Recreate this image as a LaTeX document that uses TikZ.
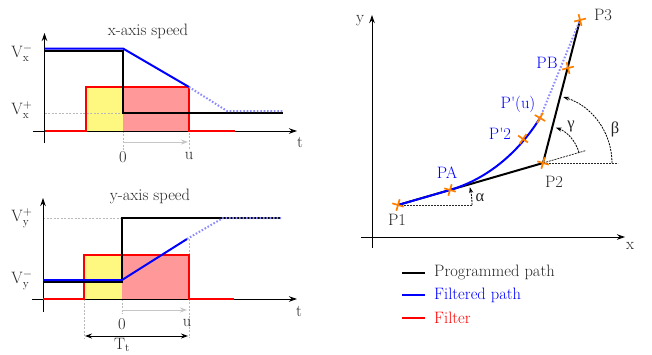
\documentclass[tikz,border=0pt]{standalone}
\usepackage{fontspec}
\newfontfamily\grk{Liberation Serif}
\usetikzlibrary{arrows.meta}
\begin{document}
\begin{tikzpicture}[x=1pt,y=-1pt,
  font=\fontsize{16.5}{19}\selectfont,
  axis/.style={line width=0.9pt,-{Stealth[length=8pt,width=5.5pt]}},
  prog/.style={line width=2pt,black},
  filt/.style={line width=2pt,blue},
  filtdot/.style={line width=2pt,blue!45,dash pattern=on 1.6pt off 1.8pt},
  filter/.style={line width=2pt,red},
  guide/.style={gray!55,line width=0.6pt,dash pattern=on 2pt off 1.5pt},
  garrow/.style={gray!45,line width=1pt,-{Stealth[length=7pt,width=5pt]}},
  angarc/.style={black,line width=0.8pt,dash pattern=on 2pt off 1pt,-{Stealth[length=6pt,width=4pt]}},
  angline/.style={black!85,line width=0.8pt,dash pattern=on 2pt off 1pt},
  lbl/.style={text=black!85,inner sep=1pt},
  blbl/.style={text=blue,inner sep=1pt},
  ocross/.pic={\draw[orange,line width=1.7pt] (-6,0)--(6,0) (0,-6)--(0,6);}
]
\useasboundingbox (0,0) rectangle (652,354);

% ---------------- top chart: x-axis speed ----------------
\fill[yellow!50] (86,87) rectangle (123,131);
\fill[red!40] (123,87) rectangle (189,131);
\draw[guide] (44.5,113) -- (123,113);
\draw[guide] (123,113) -- (123,150);
\draw[guide] (189,87) -- (189,150);
\draw[garrow] (123,142) -- (188,142);
\draw[axis] (33,131) -- (297,131);
\draw[axis] (44.5,143) -- (44.5,33);
\draw[filter] (44.5,131) -- (86,131) -- (86,87) -- (189,87) -- (189,131) -- (235,131);
\draw[prog] (44.5,50.5) -- (123,50.5) -- (123,113) -- (283,113);
\draw[filt] (44.5,48.5) -- (123,48.5) -- (189,87);
\draw[filtdot] (189,87) -- (227,111) -- (283,111);
\node[lbl] (tx) at (148,31) {x-axis speed};
\node[lbl] (vxm) at (22,53) {$\mathrm{V}_{\mathrm{x}}^{-}$};
\node[lbl] (vxp) at (22,110) {$\mathrm{V}_{\mathrm{x}}^{+}$};
\node[lbl] (zx) at (123,157) {0};
\node[lbl] (ux) at (189,156) {u};
\node[lbl] (ttx) at (300,142) {t};

% ---------------- bottom chart: y-axis speed ----------------
\fill[yellow!50] (84,255) rectangle (122,299);
\fill[red!40] (122,255) rectangle (189,299);
\draw[guide] (43,218) -- (122,218);
\draw[guide] (84,299) -- (84,338);
\draw[guide] (122,299) -- (122,314);
\draw[guide] (189,239) -- (189,338);
\draw[garrow] (122,310) -- (187,310);
\draw[axis] (32,299) -- (297,299);
\draw[axis] (43,312) -- (43,198);
\draw[filter] (43,299) -- (84,299) -- (84,255) -- (189,255) -- (189,299) -- (234,299);
\draw[prog] (43,282) -- (122,282) -- (122,218) -- (281,218);
\draw[filt] (43,280) -- (122,280) -- (187,239);
\draw[filtdot] (187,239) -- (223,218) -- (281,218);
\draw[line width=1pt,{Stealth[length=7pt,width=5pt]}-{Stealth[length=7pt,width=5pt]}] (85,336) -- (188,336);
\node[lbl] (ty) at (150,196) {y-axis speed};
\node[lbl] (vyp) at (22,218) {$\mathrm{V}_{\mathrm{y}}^{+}$};
\node[lbl] (vym) at (22,280) {$\mathrm{V}_{\mathrm{y}}^{-}$};
\node[lbl] (zy) at (122,324) {0};
\node[lbl] (uy) at (187,323) {u};
\node[lbl] (tty) at (299,311) {t};
\node[lbl] (tt) at (122,345) {$\mathrm{T}_{\mathrm{t}}$};

% ---------------- right chart: path ----------------
\coordinate (P1) at (398,205);
\coordinate (PA) at (450,190);
\coordinate (P2) at (543,163);
\coordinate (Pp2) at (523,139);
\coordinate (Pu) at (540,118);
\coordinate (PB) at (568,68);
\coordinate (P3) at (580,20);

\draw[axis] (361,237) -- (625,237);
\draw[axis] (372,248) -- (372,15);
\node[lbl] (ylab) at (360,21) {y};
\node[lbl] (xlab) at (630,246) {x};

% angle helpers
\draw[angline] (P1) -- (472,205);
\draw[angline] (P2) -- (618,163);
\draw[angline] (P2) -- (586,150.5);
\draw[angarc] (472,205) arc[start angle=0,end angle=-14,radius=74];
\draw[angarc] (612,163) arc[start angle=0,end angle=-73,radius=69];
\draw[angarc] (579,152.5) arc[start angle=-16,end angle=-70,radius=37.5];
\node[lbl] (alpha) at (480,198) {\grk α};
\node[lbl] (beta) at (615,129) {\grk β};
\node[lbl] (gamma) at (571,126) {\grk γ};

% paths
\draw[prog] (P1) -- (P2) -- (P3);
\draw[filt] (P1) -- (PA) .. controls (490,178) and (520,150) .. (Pu);
\draw[filtdot] (Pu) -- (P3);

% crosses
\pic[rotate=-16] at (P1) {ocross};
\pic[rotate=-16] at (PA) {ocross};
\pic[rotate=-16] at (P2) {ocross};
\pic[rotate=-35] at (Pp2) {ocross};
\pic[rotate=-30] at (Pu) {ocross};
\pic[rotate=14] at (PB) {ocross};
\pic[rotate=14] at (P3) {ocross};

% point labels
\node[lbl] (lP1) at (397,220) {P1};
\node[blbl] (lPA) at (447,173) {PA};
\node[lbl] (lP2) at (554,182) {P2};
\node[blbl] (lPp2) at (500,134) {P\textquotesingle 2};
\node[blbl] (lPu) at (518,104) {P\textquotesingle(u)};
\node[blbl] (lPB) at (547,63) {PB};
\node[lbl] (lP3) at (603,15) {P3};

% legend
\draw[prog] (402,273) -- (425,273);
\draw[filt] (402,295) -- (425,295);
\draw[filter] (402,318) -- (425,318);
\node[lbl,anchor=west] (lg1) at (433,272) {Programmed path};
\node[blbl,anchor=west] (lg2) at (433,295) {Filtered path};
\node[text=red,inner sep=1pt,anchor=west] (lg3) at (433,318) {Filter};
\end{tikzpicture}
\end{document}
